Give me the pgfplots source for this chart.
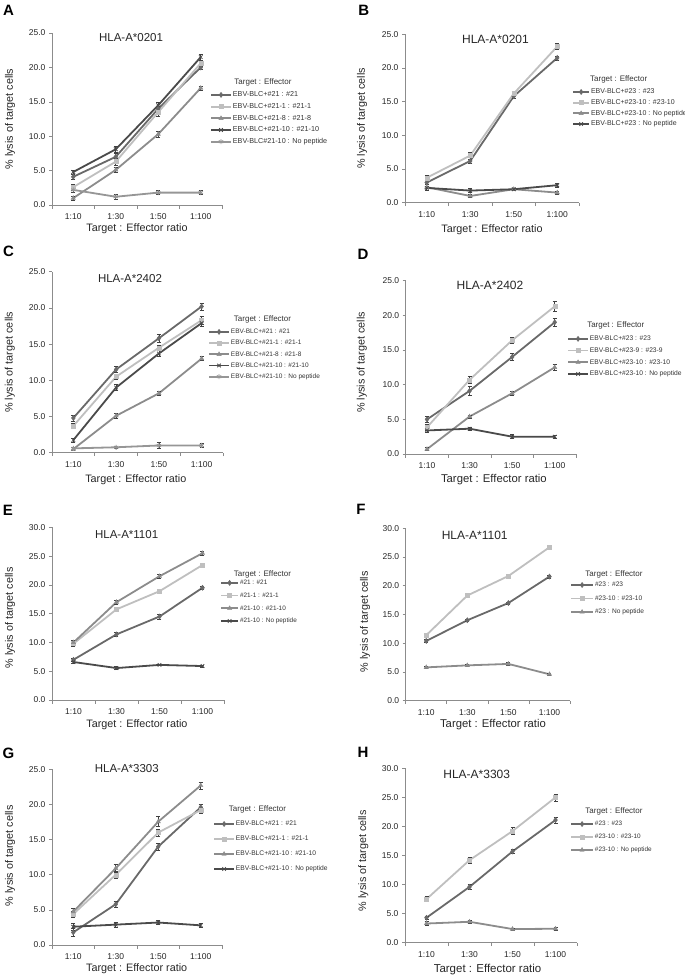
\documentclass[border=0pt]{standalone}
\usepackage{fontspec}
\setmainfont{Liberation Sans}
\usepackage{pgfplots}
\pgfplotsset{compat=1.18}
\definecolor{c1}{gray}{0.41}
\definecolor{cL}{gray}{0.75}
\definecolor{cT}{gray}{0.55}
\definecolor{cD}{gray}{0.29}
\definecolor{cN}{gray}{0.59}
\pgfplotsset{
  panel/.style={
    scale only axis, clip=false,
    xmin=-0.5, xmax=3.5, ymin=0,
    axis x line*=bottom, axis y line*=left,
    axis line style={black!45, line width=0.6pt},
    tick style={black!45, line width=0.6pt},
    tick align=outside,
    major tick length=3pt, minor tick length=3.5pt,
    xtick={0,1,2,3}, xticklabels={1:10,1:30,1:50,1:100},
    minor xtick={-0.5,0.5,1.5,2.5,3.5},
    major x tick style={draw=none},
    ytick distance=5,
    yticklabel style={/pgf/number format/fixed, /pgf/number format/fixed zerofill, /pgf/number format/precision=1},
    /pgf/number format/assume math mode=true,
    tick label style={font=\fontsize{8.5}{10}\selectfont, text=black!85},
    xticklabel style={yshift=-2pt},
    ylabel={\% lysis of target cells},
    xlabel={Target : Effector ratio},
    label style={font=\fontsize{10.8}{12}\selectfont, text=black!85},
    title style={font=\fontsize{11.5}{13}\selectfont, text=black!85, anchor=center},
    legend style={draw=none, fill=none, inner sep=0pt, anchor=north west,
      nodes={inner sep=1pt, text height=5pt, text depth=1.5pt, text=black!80}},
    legend cell align=left,
  },
  leg/.style={legend image code/.code={\draw[mark repeat=2,mark phase=2,##1] plot coordinates {(0pt,0pt) (#1/2,0pt) (#1,0pt)};}},
  sA/.style={color=c1, line width=1.8pt, mark=diamond*, mark size=2.6pt, mark options={line width=0.4pt, solid}},
  sB/.style={color=cL, line width=1.8pt, mark=square*, mark size=2pt, mark options={line width=0.4pt, solid}},
  sC/.style={color=cT, line width=1.8pt, mark=triangle*, mark size=2.5pt, mark options={line width=0.4pt, solid}},
  sD/.style={color=cD, line width=1.8pt, mark=x, mark size=2.5pt, mark options={line width=0.8pt, solid}},
  sE/.style={color=cN, line width=1.8pt, mark=asterisk, mark size=2.5pt, mark options={line width=0.8pt, solid}},
  eb/.style={error bars/y dir=both, error bars/y explicit,
    error bars/error bar style={line width=0.6pt, black!75},
    error bars/error mark options={rotate=90, mark size=2pt, line width=0.6pt, black!75}},
}
\begin{document}
\begin{tikzpicture}
\path[use as bounding box] (0,0) rectangle (685pt,-977pt);

% ---------------- A ----------------
\begin{axis}[panel, at={(52pt,-205pt)}, anchor=south west, width=170pt, height=172pt, ymax=25,
  ylabel style={at={(axis description cs:-0.247,0.5)}, anchor=center},
  xlabel style={at={(axis description cs:0.5,-0.14)}, anchor=center},
  title={HLA-A*0201}, title style={at={(axis description cs:0.465,0.936)}},
  leg=20pt,
  legend style={at={(axis description cs:0.929,0.666)}, font=\fontsize{7.2}{8}\selectfont, row sep=3.2pt}]
\addplot[sA, eb] coordinates {(0,4.1) +- (0,0.4) (1,7.0) +- (0,0.5) (2,14.0) +- (0,0.4) (3,20.0) +- (0,0.3)};
\addlegendentry{EBV-BLC+\#21 : \#21}
\addplot[sB, eb] coordinates {(0,2.6) +- (0,0.4) (1,6.3) +- (0,0.5) (2,13.5) +- (0,0.6) (3,20.6) +- (0,0.4)};
\addlegendentry{EBV-BLC+\#21-1 : \#21-1}
\addplot[sC, eb] coordinates {(0,1.0) +- (0,0.3) (1,5.1) +- (0,0.4) (2,10.3) +- (0,0.4) (3,17.0) +- (0,0.3)};
\addlegendentry{EBV-BLC+\#21-8 : \#21-8}
\addplot[sD, eb] coordinates {(0,4.8) +- (0,0.3) (1,8.1) +- (0,0.5) (2,14.5) +- (0,0.4) (3,21.5) +- (0,0.4)};
\addlegendentry{EBV-BLC+\#21-10 : \#21-10}
\addplot[sE, eb] coordinates {(0,2.2) +- (0,0.3) (1,1.2) +- (0,0.3) (2,1.8) +- (0,0.3) (3,1.8) +- (0,0.3)};
\addlegendentry{EBV-BLC\#21-10 : No peptide}
\end{axis}

% ---------------- B ----------------
\begin{axis}[panel, at={(405pt,-202.7pt)}, anchor=south west, width=174pt, height=168.4pt, ymax=25,
  ylabel style={at={(axis description cs:-0.247,0.5)}, anchor=center},
  xlabel style={at={(axis description cs:0.5,-0.162)}, anchor=center},
  title={HLA-A*0201}, title style={at={(axis description cs:0.52,0.936)}, font=\fontsize{12}{13}\selectfont},
  leg=16pt,
  legend style={at={(axis description cs:0.96,0.684)}, font=\fontsize{7}{8}\selectfont, row sep=2.2pt}]
\addplot[sA, eb] coordinates {(0,3.0) +- (0,0.3) (1,6.2) +- (0,0.3) (2,15.8) +- (0,0.3) (3,21.5) +- (0,0.3)};
\addlegendentry{EBV-BLC+\#23 : \#23}
\addplot[sB, eb] coordinates {(0,3.7) +- (0,0.4) (1,7.0) +- (0,0.5) (2,16.2) +- (0,0.3) (3,23.2) +- (0,0.4)};
\addlegendentry{EBV-BLC+\#23-10 : \#23-10}
\addplot[sC, eb] coordinates {(0,2.3) +- (0,0.2) (1,1.0) +- (0,0.2) (2,2.0) +- (0,0.2) (3,1.5) +- (0,0.2)};
\addlegendentry{EBV-BLC+\#23-10 : No peptide}
\addplot[sD, eb] coordinates {(0,2.2) +- (0,0.3) (1,1.8) +- (0,0.3) (2,2.0) +- (0,0.2) (3,2.6) +- (0,0.3)};
\addlegendentry{EBV-BLC+\#23 : No peptide}
\end{axis}

% ---------------- C ----------------
\begin{axis}[panel, at={(52pt,-452.7pt)}, anchor=south west, width=171pt, height=181pt, ymax=25,
  ylabel style={at={(axis description cs:-0.246,0.5)}, anchor=center},
  xlabel style={at={(axis description cs:0.49,-0.151)}, anchor=center},
  title={HLA-A*2402}, title style={at={(axis description cs:0.456,0.927)}},
  leg=20pt,
  legend style={at={(axis description cs:0.912,0.692)}, font=\fontsize{6.5}{8}\selectfont, row sep=2.7pt}]
\addplot[sA, eb] coordinates {(0,4.8) +- (0,0.4) (1,11.5) +- (0,0.4) (2,15.8) +- (0,0.5) (3,20.2) +- (0,0.5)};
\addlegendentry{EBV-BLC+\#21 : \#21}
\addplot[sB, eb] coordinates {(0,3.7) +- (0,0.3) (1,10.5) +- (0,0.3) (2,14.5) +- (0,0.3) (3,18.3) +- (0,0.5)};
\addlegendentry{EBV-BLC+\#21-1 : \#21-1}
\addplot[sC, eb] coordinates {(0,0.5) +- (0,0.2) (1,5.1) +- (0,0.3) (2,8.2) +- (0,0.3) (3,13.0) +- (0,0.3)};
\addlegendentry{EBV-BLC+\#21-8 : \#21-8}
\addplot[sD, eb] coordinates {(0,1.75) +- (0,0.3) (1,9.0) +- (0,0.4) (2,13.7) +- (0,0.4) (3,17.9) +- (0,0.4)};
\addlegendentry{EBV-BLC+\#21-10 : \#21-10}
\addplot[sE, eb] coordinates {(0,0.6) +- (0,0.2) (1,0.75) +- (0,0.2) (2,1.0) +- (0,0.4) (3,1.0) +- (0,0.3)};
\addlegendentry{EBV-BLC+\#21-10 : No peptide}
\end{axis}

% ---------------- D ----------------
\begin{axis}[panel, at={(405.7pt,-454pt)}, anchor=south west, width=170.3pt, height=173.3pt, ymax=25,
  ylabel style={at={(axis description cs:-0.258,0.528)}, anchor=center},
  xlabel style={at={(axis description cs:0.518,-0.15)}, anchor=center, font=\fontsize{11.3}{12}\selectfont},
  title={HLA-A*2402}, title style={at={(axis description cs:0.495,0.937)}, font=\fontsize{12}{13}\selectfont},
  leg=20pt,
  legend style={at={(axis description cs:0.947,0.69)}, font=\fontsize{6.7}{8}\selectfont, row sep=3.2pt}]
\addplot[sA, eb] coordinates {(0,5.0) +- (0,0.4) (1,9.1) +- (0,0.6) (2,14.0) +- (0,0.5) (3,19.0) +- (0,0.6)};
\addlegendentry{EBV-BLC+\#23 : \#23}
\addplot[sB, eb] coordinates {(0,3.85) +- (0,0.4) (1,10.7) +- (0,0.5) (2,16.4) +- (0,0.5) (3,21.3) +- (0,0.7)};
\addlegendentry{EBV-BLC+\#23-9 : \#23-9}
\addplot[sC, eb] coordinates {(0,0.7) +- (0,0.2) (1,5.4) +- (0,0.2) (2,8.75) +- (0,0.3) (3,12.5) +- (0,0.4)};
\addlegendentry{EBV-BLC+\#23-10 : \#23-10}
\addplot[sD, eb] coordinates {(0,3.4) +- (0,0.3) (1,3.65) +- (0,0.2) (2,2.5) +- (0,0.3) (3,2.5) +- (0,0.2)};
\addlegendentry{EBV-BLC+\#23-10 : No peptide}
\end{axis}

% ---------------- E ----------------
\begin{axis}[panel, at={(52pt,-700pt)}, anchor=south west, width=172pt, height=172.7pt, ymax=30,
  ylabel style={at={(axis description cs:-0.244,0.475)}, anchor=center},
  xlabel style={at={(axis description cs:0.494,-0.145)}, anchor=center},
  title={HLA-A*1101}, title style={at={(axis description cs:0.434,0.922)}},
  leg=17pt,
  legend style={at={(axis description cs:0.977,0.704)}, font=\fontsize{6.4}{8}\selectfont, row sep=4.2pt}]
\addplot[sA, eb] coordinates {(0,7.0) +- (0,0.3) (1,11.4) +- (0,0.3) (2,14.5) +- (0,0.4) (3,19.5) +- (0,0.2)};
\addlegendentry{\#21 : \#21}
\addplot[sB, eb] coordinates {(0,9.8) +- (0,0.4) (1,15.75) +- (0,0.3) (2,18.9) +- (0,0.4) (3,23.45) +- (0,0.3)};
\addlegendentry{\#21-1 : \#21-1}
\addplot[sC, eb] coordinates {(0,10.0) +- (0,0.3) (1,17.0) +- (0,0.3) (2,21.5) +- (0,0.3) (3,25.5) +- (0,0.4)};
\addlegendentry{\#21-10 : \#21-10}
\addplot[sD, eb] coordinates {(0,6.6) +- (0,0.2) (1,5.55) +- (0,0.3) (2,6.1) +- (0,0.1) (3,5.9) +- (0,0.2)};
\addlegendentry{\#21-10 : No peptide}
\end{axis}

% ---------------- F ----------------
\begin{axis}[panel, at={(405.7pt,-700.7pt)}, anchor=south west, width=164.3pt, height=172.4pt, ymax=30,
  ylabel style={at={(axis description cs:-0.248,0.458)}, anchor=center},
  xlabel style={at={(axis description cs:0.531,-0.141)}, anchor=center, font=\fontsize{11.3}{12}\selectfont},
  title={HLA-A*1101}, title style={at={(axis description cs:0.42,0.922)}, font=\fontsize{12}{13}\selectfont},
  leg=22pt,
  legend style={at={(axis description cs:1.0,0.697)}, font=\fontsize{6.6}{8}\selectfont, row sep=5pt}]
\addplot[sA, eb] coordinates {(0,10.4) +- (0,0.3) (1,14.0) +- (0,0.2) (2,17.0) +- (0,0.2) (3,21.6) +- (0,0.3)};
\addlegendentry{\#23 : \#23}
\addplot[sB, eb] coordinates {(0,11.4) +- (0,0.4) (1,18.3) +- (0,0.3) (2,21.7) +- (0,0.3) (3,26.7) +- (0,0.4)};
\addlegendentry{\#23-10 : \#23-10}
\addplot[sC, eb] coordinates {(0,5.8) +- (0,0.2) (1,6.15) +- (0,0.2) (2,6.4) +- (0,0.3) (3,4.6) +- (0,0.2)};
\addlegendentry{\#23 : No peptide}
\end{axis}

% ---------------- G ----------------
\begin{axis}[panel, at={(52pt,-945pt)}, anchor=south west, width=170pt, height=175.7pt, ymax=25,
  ylabel style={at={(axis description cs:-0.247,0.507)}, anchor=center},
  xlabel style={at={(axis description cs:0.498,-0.133)}, anchor=center},
  title={HLA-A*3303}, title style={at={(axis description cs:0.44,0.973)}},
  leg=20pt,
  legend style={at={(axis description cs:0.947,0.714)}, font=\fontsize{6.7}{8}\selectfont, row sep=6.5pt}]
\addplot[sA, eb] coordinates {(0,1.8) +- (0,0.6) (1,5.8) +- (0,0.4) (2,14.0) +- (0,0.5) (3,19.6) +- (0,0.4)};
\addlegendentry{EBV-BLC+\#21 : \#21}
\addplot[sB, eb] coordinates {(0,4.4) +- (0,0.4) (1,10.0) +- (0,0.5) (2,16.0) +- (0,0.5) (3,19.2) +- (0,0.4)};
\addlegendentry{EBV-BLC+\#21-1 : \#21-1}
\addplot[sC, eb] coordinates {(0,4.75) +- (0,0.5) (1,10.9) +- (0,0.6) (2,17.55) +- (0,0.7) (3,22.7) +- (0,0.5)};
\addlegendentry{EBV-BLC+\#21-10 : \#21-10}
\addplot[sD, eb] coordinates {(0,2.6) +- (0,0.5) (1,2.9) +- (0,0.4) (2,3.2) +- (0,0.3) (3,2.8) +- (0,0.3)};
\addlegendentry{EBV-BLC+\#21-10 : No peptide}
\end{axis}

% ---------------- H ----------------
\begin{axis}[panel, at={(405pt,-942.7pt)}, anchor=south west, width=172pt, height=174.4pt, ymax=30,
  ylabel style={at={(axis description cs:-0.242,0.47)}, anchor=center},
  xlabel style={at={(axis description cs:0.48,-0.153)}, anchor=center, font=\fontsize{11.5}{12}\selectfont},
  title={HLA-A*3303}, title style={at={(axis description cs:0.417,0.933)}, font=\fontsize{12}{13}\selectfont},
  leg=22pt,
  legend style={at={(axis description cs:0.959,0.706)}, font=\fontsize{6.4}{8}\selectfont, row sep=4.5pt}]
\addplot[sA, eb] coordinates {(0,4.3) +- (0,0.3) (1,9.6) +- (0,0.4) (2,15.7) +- (0,0.4) (3,21.1) +- (0,0.5)};
\addlegendentry{\#23 : \#23}
\addplot[sB, eb] coordinates {(0,7.5) +- (0,0.4) (1,14.2) +- (0,0.5) (2,19.2) +- (0,0.6) (3,25.0) +- (0,0.6)};
\addlegendentry{\#23-10 : \#23-10}
\addplot[sC, eb] coordinates {(0,3.3) +- (0,0.3) (1,3.6) +- (0,0.3) (2,2.35) +- (0,0.2) (3,2.4) +- (0,0.2)};
\addlegendentry{\#23-10 : No peptide}
\end{axis}

% panel letters
\begin{scope}[every node/.style={font=\bfseries\fontsize{15}{15}\selectfont, inner sep=0pt}]
\node at (8.5pt,-10.5pt) {A};
\node at (363.7pt,-10.5pt) {B};
\node at (8.5pt,-251.7pt) {C};
\node at (363pt,-254pt) {D};
\node at (8pt,-510.8pt) {E};
\node at (361pt,-509pt) {F};
\node at (8.5pt,-753pt) {G};
\node at (363pt,-752pt) {H};
\end{scope}
% legend titles
\begin{scope}[every node/.style={font=\fontsize{8}{9}\selectfont, text=black!80, inner sep=0pt}]
\node at (263pt,-82.3pt) {Target : Effector};
\node at (618.7pt,-79.3pt) {Target : Effector};
\node at (262.5pt,-319.3pt) {Target : Effector};
\node at (615.8pt,-325pt) {Target : Effector};
\node at (262.5pt,-574.3pt) {Target : Effector};
\node at (614pt,-574.3pt) {Target : Effector};
\node at (257.5pt,-809.3pt) {Target : Effector};
\node at (614pt,-811.7pt) {Target : Effector};
\end{scope}
\end{tikzpicture}
\end{document}
